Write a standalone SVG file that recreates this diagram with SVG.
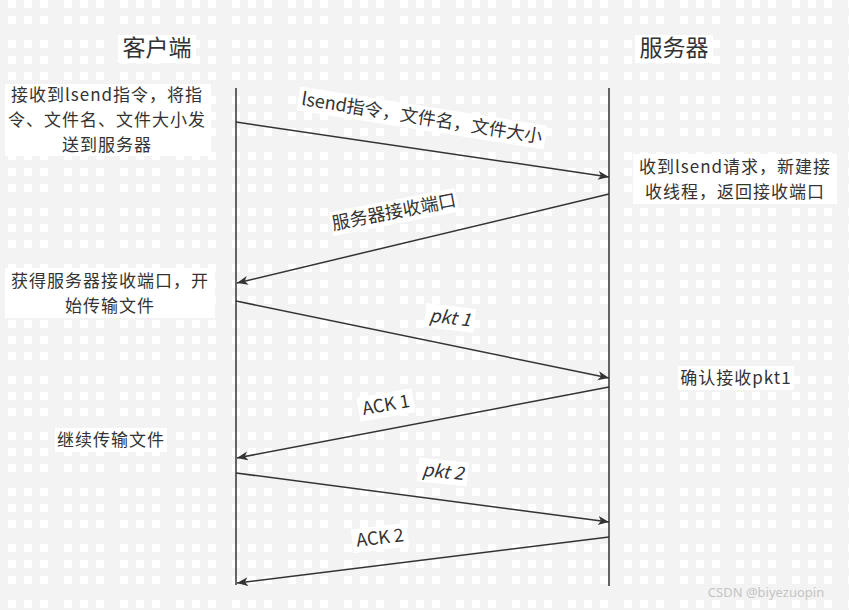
<svg xmlns="http://www.w3.org/2000/svg" width="849" height="610" viewBox="0 0 849 610">
<style>
.t{font-family:"Noto Sans CJK SC","Noto Sans",sans-serif;fill:#333;text-anchor:middle;font-size:18px}
.n{font-size:17px;letter-spacing:1px}
.title{font-size:23px}
.bg{fill:#fff}
.life{stroke:#333;stroke-width:1.5;fill:none}
.msg{stroke:#333;stroke-width:1.5;fill:none;marker-end:url(#arr)}
.it{font-style:italic}
.wm{font-family:"Noto Sans","Liberation Sans",sans-serif;font-size:13px;fill:#c4c4c4;text-anchor:middle}
</style>
<defs>
<pattern id="grid" patternUnits="userSpaceOnUse" x="8" y="40" width="56" height="56">
<rect x="0" y="0" width="8" height="8" fill="#fff"/><rect x="16" y="0" width="8" height="8" fill="#fff"/><rect x="32" y="0" width="8" height="8" fill="#fff"/>
<rect x="0" y="16" width="8" height="8" fill="#fff"/><rect x="16" y="16" width="8" height="8" fill="#fff"/><rect x="32" y="16" width="8" height="8" fill="#fff"/>
<rect x="0" y="32" width="8" height="8" fill="#fff"/><rect x="16" y="32" width="8" height="8" fill="#fff"/><rect x="32" y="32" width="8" height="8" fill="#fff"/>
</pattern>
<marker id="arr" markerUnits="userSpaceOnUse" markerWidth="12" markerHeight="10" refX="11" refY="4.5" orient="auto">
<path d="M0,0 L11,4.5 L0,9 L3,4.5 Z" fill="#333"/>
</marker>
</defs>
<rect width="849" height="610" fill="#f3f3f3"/>
<rect width="849" height="610" fill="url(#grid)"/>

<g id="client">
<rect class="bg" x="118" y="35" width="78" height="28"/>
<text class="t title" x="157" y="56">客户端</text>
<line class="life" x1="236" y1="88" x2="236" y2="585"/>
</g>
<g id="server">
<rect class="bg" x="635" y="35" width="78" height="28"/>
<text class="t title" x="674" y="56">服务器</text>
<line class="life" x1="609" y1="88" x2="609" y2="586"/>
</g>

<g id="client-note1">
<rect class="bg" x="5" y="84" width="206" height="72"/>
<text class="t n" x="107" y="101">接收到lsend指令，将指</text>
<text class="t n" x="107" y="126">令、文件名、文件大小发</text>
<text class="t n" x="107" y="151">送到服务器</text>
</g>
<g id="server-note1">
<rect class="bg" x="633" y="154" width="204" height="50"/>
<text class="t n" x="735" y="172.5">收到lsend请求，新建接</text>
<text class="t n" x="735" y="197.5">收线程，返回接收端口</text>
</g>
<g id="client-note2">
<rect class="bg" x="5" y="268" width="210" height="50"/>
<text class="t n" x="110" y="286.5">获得服务器接收端口，开</text>
<text class="t n" x="110" y="311.5">始传输文件</text>
</g>
<g id="server-note2">
<rect class="bg" x="678" y="366" width="116" height="24"/>
<text class="t n" x="736" y="384">确认接收pkt1</text>
</g>
<g id="client-note3">
<rect class="bg" x="55" y="428" width="112" height="24"/>
<text class="t n" x="111" y="446">继续传输文件</text>
</g>

<g id="connectors">
<path class="msg" d="M236,122 L609,177"/>
<path class="msg" d="M609,194 L237,283"/>
<path class="msg" d="M236,301 L609,378"/>
<path class="msg" d="M609,387 L237,458"/>
<path class="msg" d="M236,473 L609,522"/>
<path class="msg" d="M609,537 L237,583"/>
</g>

<g id="labels">
<g transform="translate(422,118) rotate(9)"><rect class="bg" x="-125" y="-12" width="250" height="24"/><text class="t" x="0" y="6">lsend指令，文件名，文件大小</text></g>
<g transform="translate(394,212) rotate(-11)"><rect class="bg" x="-64" y="-12" width="128" height="24"/><text class="t" x="0" y="6">服务器接收端口</text></g>
<g transform="translate(450,318) rotate(7)"><rect class="bg" x="-25" y="-12" width="50" height="24"/><text class="t it" x="0" y="6">pkt 1</text></g>
<g transform="translate(386,405) rotate(-10)"><rect class="bg" x="-28" y="-12" width="56" height="24"/><text class="t" x="0" y="6">ACK 1</text></g>
<g transform="translate(443,472) rotate(6)"><rect class="bg" x="-25" y="-12" width="50" height="24"/><text class="t it" x="0" y="6">pkt 2</text></g>
<g transform="translate(380,538) rotate(-7)"><rect class="bg" x="-28" y="-12" width="56" height="24"/><text class="t" x="0" y="6">ACK 2</text></g>
</g>

<text class="wm" x="766" y="597">CSDN @biyezuopin</text>
</svg>
